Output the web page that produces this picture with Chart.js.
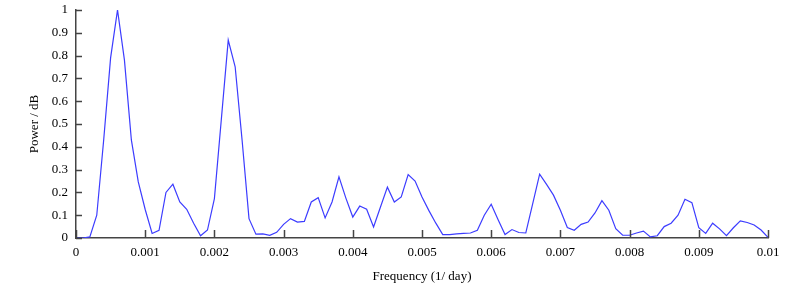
<!DOCTYPE html>
<html><head><meta charset="utf-8">
<style>html,body{margin:0;padding:0;background:#fff}#wrap{width:798px;height:290px;position:relative}</style>
<script src="https://cdn.jsdelivr.net/npm/chart.js@4/dist/chart.umd.min.js"></script>
</head><body><div id="wrap"><canvas id="c"></canvas></div>
<script>
const frequencies = [
  0, 0.0001, 0.0002, 0.0003, 0.0004, 0.0005, 0.0006, 0.0007, 0.0008, 0.0009,
  0.001, 0.0011, 0.0012, 0.0013, 0.0014, 0.0015, 0.0016, 0.0017, 0.0018, 0.0019,
  0.002, 0.0021, 0.0022, 0.0023, 0.0024, 0.0025, 0.0026, 0.0027, 0.0028, 0.0029,
  0.003, 0.0031, 0.0032, 0.0033, 0.0034, 0.0035, 0.0036, 0.0037, 0.0038, 0.0039,
  0.004, 0.0041, 0.0042, 0.0043, 0.0044, 0.0045, 0.0046, 0.0047, 0.0048, 0.0049,
  0.005, 0.0051, 0.0052, 0.0053, 0.0054, 0.0055, 0.0056, 0.0057, 0.0058, 0.0059,
  0.006, 0.0061, 0.0062, 0.0063, 0.0064, 0.0065, 0.0066, 0.0067, 0.0068, 0.0069,
  0.007, 0.0071, 0.0072, 0.0073, 0.0074, 0.0075, 0.0076, 0.0077, 0.0078, 0.0079,
  0.008, 0.0081, 0.0082, 0.0083, 0.0084, 0.0085, 0.0086, 0.0087, 0.0088, 0.0089,
  0.009, 0.0091, 0.0092, 0.0093, 0.0094, 0.0095, 0.0096, 0.0097, 0.0098, 0.0099,
  0.01
];
const power = [
  0, 0, 0.005, 0.1, 0.43, 0.79, 1.0, 0.78, 0.43, 0.246,
  0.125, 0.02, 0.034, 0.2, 0.236, 0.158, 0.126, 0.065, 0.01, 0.035,
  0.173, 0.52, 0.868, 0.751, 0.43, 0.085, 0.017, 0.018, 0.012, 0.025,
  0.06, 0.085, 0.07, 0.073, 0.158, 0.177, 0.088, 0.158, 0.268, 0.175,
  0.092, 0.14, 0.126, 0.048, 0.136, 0.223, 0.158, 0.18, 0.278, 0.25,
  0.18, 0.12, 0.065, 0.015, 0.015, 0.018, 0.02, 0.022, 0.034, 0.1,
  0.148, 0.08, 0.015, 0.037, 0.024, 0.022, 0.151, 0.28, 0.235, 0.188,
  0.122, 0.046, 0.034, 0.06, 0.07, 0.11, 0.164, 0.122, 0.041, 0.012,
  0.012, 0.022, 0.03, 0.005, 0.01, 0.05, 0.065, 0.1, 0.17, 0.155,
  0.045, 0.02, 0.065, 0.04, 0.01, 0.045, 0.075, 0.068, 0.057, 0.035,
  0.003
];
const xTickValues = [0, 0.001, 0.002, 0.003, 0.004, 0.005, 0.006, 0.007, 0.008, 0.009, 0.01];
const xTickLabels = ['0', '0.001', '0.002', '0.003', '0.004', '0.005', '0.006', '0.007', '0.008', '0.009', '0.01'];
const yTickValues = [0, 0.1, 0.2, 0.3, 0.4, 0.5, 0.6, 0.7, 0.8, 0.9, 1];
const yTickLabels = ['0', '0.1', '0.2', '0.3', '0.4', '0.5', '0.6', '0.7', '0.8', '0.9', '1'];

const FONT = 'Liberation Serif, Times New Roman, serif';
const AXIS = '#444';

const innerTicks = {
  id: 'innerTicks',
  afterDraw(chart) {
    const {ctx, chartArea, scales} = chart;
    ctx.save();
    ctx.strokeStyle = AXIS;
    ctx.lineWidth = 1.5;
    ctx.beginPath();
    yTickValues.forEach(v => {
      const y = Math.round(scales.y.getPixelForValue(v)) + 0.5;
      ctx.moveTo(chartArea.left, y);
      ctx.lineTo(chartArea.left + 6, y);
    });
    xTickValues.forEach(v => {
      const x = Math.round(scales.x.getPixelForValue(v)) + 0.5;
      ctx.moveTo(x, chartArea.bottom);
      ctx.lineTo(x, chartArea.bottom - 8);
    });
    ctx.stroke();
    ctx.restore();
  }
};

new Chart(document.getElementById('c'), {
  type: 'line',
  data: {
    datasets: [{
      data: frequencies.map((f, i) => ({x: f, y: power[i]})),
      borderColor: 'rgb(60,60,255)',
      borderWidth: 1.2,
      pointRadius: 0,
      tension: 0,
      fill: false
    }]
  },
  options: {
    responsive: true,
    maintainAspectRatio: false,
    animation: false,
    events: [],
    layout: {padding: {top: 10, right: 30, left: 0, bottom: 0}},
    plugins: {legend: {display: false}, tooltip: {enabled: false}},
    scales: {
      x: {
        type: 'linear', min: 0, max: 0.01,
        grid: {display: false, drawTicks: false},
        border: {display: true, color: AXIS, width: 1.5},
        afterBuildTicks: s => { s.ticks = xTickValues.map(v => ({value: v})); },
        afterFit: s => { s.height = 52; s.paddingLeft = 0; s.paddingRight = 0; },
        ticks: {
          color: '#000', padding: 7, maxRotation: 0, autoSkip: false,
          font: {family: FONT, size: 13},
          callback: (v, i) => xTickLabels[i]
        },
        title: {display: true, text: 'Frequency (1/ day)', color: '#000',
          font: {family: FONT, size: 13}, padding: {top: 0, bottom: 5.5}}
      },
      y: {
        min: 0, max: 1,
        grid: {display: false, drawTicks: false},
        border: {display: true, color: AXIS, width: 1.5},
        afterBuildTicks: s => { s.ticks = yTickValues.map(v => ({value: v})); },
        afterFit: s => { s.width = 76; s.paddingTop = 0; s.paddingBottom = 0; },
        ticks: {
          color: '#000', padding: 8, autoSkip: false,
          font: {family: FONT, size: 13},
          callback: (v, i) => yTickLabels[i]
        },
        title: {display: true, text: 'Power / dB', color: '#000',
          font: {family: FONT, size: 13}, padding: {top: 27, bottom: 0}}
      }
    }
  },
  plugins: [innerTicks]
});
</script>
</body></html>
